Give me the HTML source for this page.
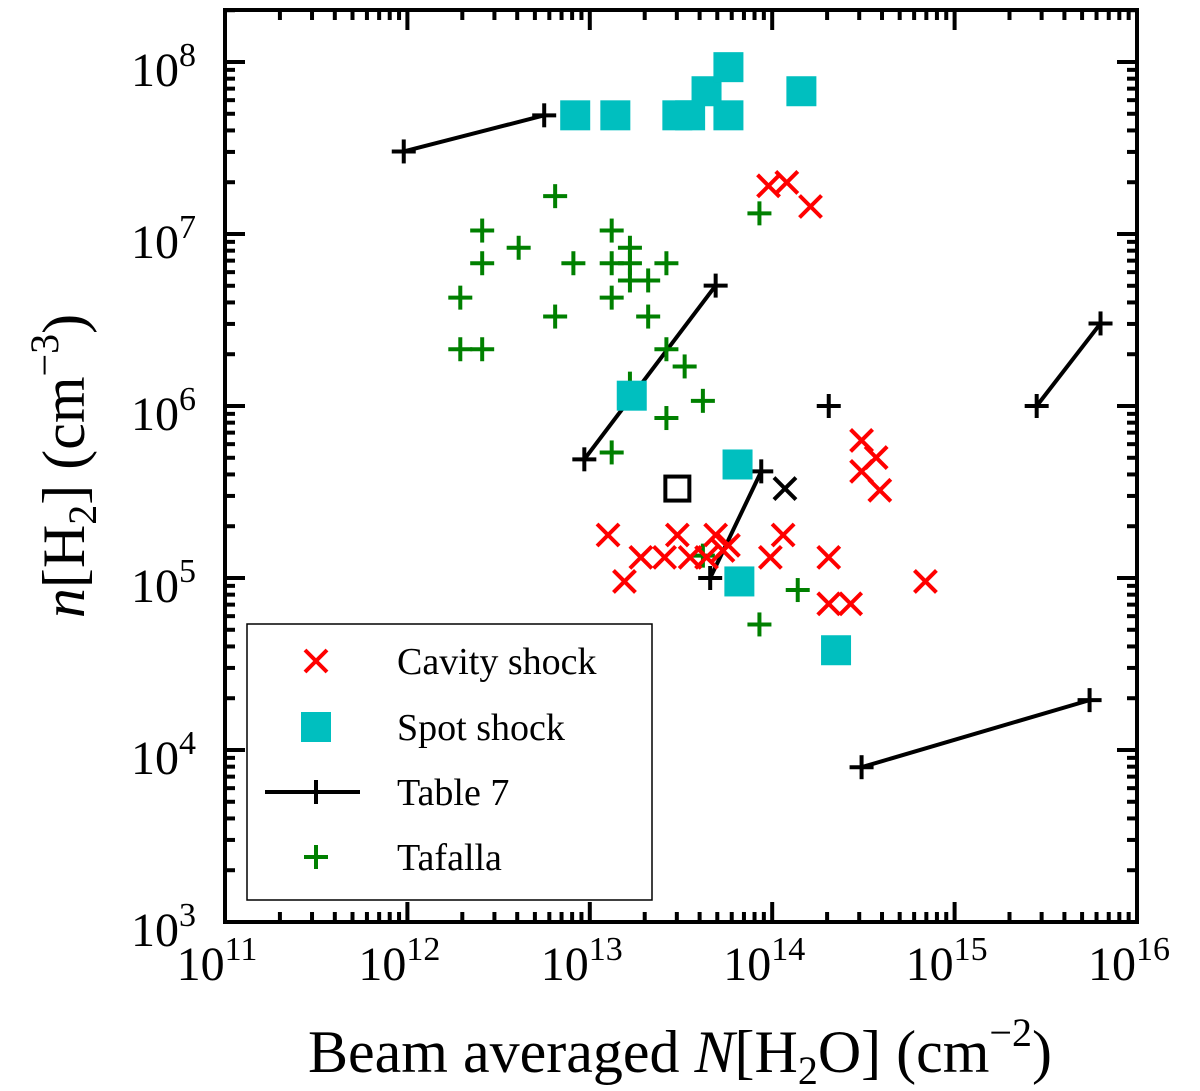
<!DOCTYPE html>
<html><head><meta charset="utf-8"><style>
body{margin:0;background:#fff}
svg{display:block;font-family:"Liberation Serif",serif}
</style></head><body>
<svg id="chart" width="1200" height="1091" viewBox="0 0 1200 1091" xmlns="http://www.w3.org/2000/svg"></svg>
<script>
// log10 values
const spotX=[12.92,13.14,13.48,13.55,13.64,13.76,13.76,14.16,13.23,13.81,13.82,14.35];
const spotY=[7.69,7.69,7.69,7.69,7.83,7.97,7.69,7.83,6.06,5.66,4.98,4.58];
const cavX=[13.98,14.08,14.21,14.49,14.57,14.49,14.59,13.10,13.19,13.28,13.48,13.41,13.55,13.69,13.76,13.64,13.73,14.06,13.99,14.31,14.31,14.43,14.84];
const cavY=[7.28,7.30,7.16,5.80,5.70,5.62,5.51,5.25,4.98,5.12,5.25,5.12,5.12,5.25,5.19,5.12,5.16,5.25,5.12,5.12,4.85,4.85,4.98];
const tafX=[12.81,12.41,13.93,13.12,12.61,12.41,12.91,13.12,13.22,13.22,13.42,12.29,13.12,13.22,13.32,12.81,13.32,12.29,12.41,13.42,13.52,13.22,13.62,13.42,13.12,13.62,14.14,13.93];
const tafY=[7.22,7.02,7.12,7.02,6.92,6.83,6.83,6.83,6.92,6.83,6.83,6.63,6.63,6.73,6.73,6.52,6.52,6.33,6.33,6.33,6.23,6.13,6.03,5.93,5.73,5.13,4.93,4.73];
const t7X1=[11.98,12.97,13.66,15.45,14.49];
const t7Y1=[7.48,5.69,5.00,6.00,3.90];
const t7X2=[12.75,13.69,13.94,15.80,15.74];
const t7Y2=[7.69,6.70,5.62,6.48,4.29];
const t7SingleX=[14.31], t7SingleY=[6.00];
const blackCrossX=[14.07], blackCrossY=[5.52];
const openSqX=[13.48], openSqY=[5.52];
const xTicks=[11,12,13,14,15,16];
const yTicks=[3,4,5,6,7,8];

const L=225,R=1137,T=10,B=922;
const X=v=>L+(v-11)/5*(R-L);
const Y=v=>922-(v-3)*172;
const svg=document.getElementById('chart');
const NS='http://www.w3.org/2000/svg';
function mk(tag,attrs,parent){const e=document.createElementNS(NS,tag);for(const k in attrs)e.setAttribute(k,attrs[k]);(parent||svg).appendChild(e);return e;}

const tg=mk('g',{stroke:'#000','stroke-width':4});


for(let d=11;d<16;d++)for(let m=1;m<10;m++){const v=d+Math.log10(m);const x=X(v);const len=m==1?20:10;
 mk('line',{x1:x,x2:x,y1:B,y2:B-len},tg);mk('line',{x1:x,x2:x,y1:T,y2:T+len},tg);}
for(let d=3;d<8.3;d++)for(let m=1;m<10;m++){const v=d+Math.log10(m);if(v>8.31)break;const y=Y(v);const len=m==1?20:10;
 mk('line',{x1:L,x2:L+len,y1:y,y2:y},tg);mk('line',{x1:R,x2:R-len,y1:y,y2:y},tg);}
const frame=mk('rect',{x:L,y:T,width:R-L,height:B-T,fill:'none',stroke:'#000','stroke-width':4});



xTicks.forEach(v=>{const t=mk('text',{x:X(v)-8,y:980,'font-size':48,'text-anchor':'middle'});
 
 t.innerHTML='10<tspan dy="-20" font-size="34">'+v+'</tspan>';});
yTicks.forEach(v=>{const t=mk('text',{x:196,y:Y(v)+24,'font-size':48,'text-anchor':'end'});
 
 t.innerHTML='10<tspan dy="-20" font-size="34">'+v+'</tspan>';});

const xt=mk('text',{x:680,y:1072,'font-size':60,'text-anchor':'middle'});

xt.innerHTML='Beam averaged <tspan font-style="italic">N</tspan>[H<tspan dy="12" font-size="40">2</tspan><tspan dy="-12">O] (cm</tspan><tspan dy="-26" font-size="40">−2</tspan><tspan dy="26">)</tspan>';
const yt=mk('text',{x:0,y:0,'font-size':60,'text-anchor':'middle',transform:'translate(84,466) rotate(-90)'});

yt.innerHTML='<tspan font-style="italic">n</tspan>[H<tspan dy="12" font-size="40">2</tspan><tspan dy="-12">] (cm</tspan><tspan dy="-26" font-size="40">−3</tspan><tspan dy="26">)</tspan>';

function cross(x,y,c,s,g){mk('line',{x1:x-s,y1:y-s,x2:x+s,y2:y+s,stroke:c,'stroke-width':4},g);mk('line',{x1:x-s,y1:y+s,x2:x+s,y2:y-s,stroke:c,'stroke-width':4},g);}
function plus(x,y,c,s,g){mk('line',{x1:x-s,y1:y,x2:x+s,y2:y,stroke:c,'stroke-width':4},g);mk('line',{x1:x,y1:y-s,x2:x,y2:y+s,stroke:c,'stroke-width':4},g);}

t7X1.forEach((_,i)=>{const g=mk('g',{});
 
 mk('line',{x1:X(t7X1[i]),y1:Y(t7Y1[i]),x2:X(t7X2[i]),y2:Y(t7Y2[i]),stroke:'#000','stroke-width':4},g);
 plus(X(t7X1[i]),Y(t7Y1[i]),'#000',12,g);plus(X(t7X2[i]),Y(t7Y2[i]),'#000',12,g);});
t7SingleX.forEach((v,i)=>{const g=mk('g',{});plus(X(v),Y(t7SingleY[i]),'#000',12,g);});

tafX.forEach((v,i)=>{const g=mk('g',{});plus(X(v),Y(tafY[i]),'#008000',12,g);});
cavX.forEach((v,i)=>{const g=mk('g',{});cross(X(v),Y(cavY[i]),'#ff0000',11,g);});
blackCrossX.forEach((v,i)=>{const g=mk('g',{});cross(X(v),Y(blackCrossY[i]),'#000',11,g);});
spotX.forEach((v,i)=>{const r=mk('rect',{x:X(v)-15,y:Y(spotY[i])-15,width:30,height:30,fill:'#00bfbf'});});
openSqX.forEach((v,i)=>{const r=mk('rect',{x:X(v)-12,y:Y(openSqY[i])-12,width:24,height:24,fill:'none',stroke:'#000','stroke-width':4});});

const lg=mk('g',{});
mk('rect',{x:247,y:624,width:405,height:276,fill:'#fff',stroke:'#000','stroke-width':1.5},lg);
const e1=mk('g',{},lg);
cross(316,661,'#ff0000',11,e1);
const e2=mk('g',{},lg);
mk('rect',{x:301,y:712,width:30,height:30,fill:'#00bfbf'},e2);
const e3=mk('g',{},lg);
mk('line',{x1:265,x2:360,y1:792,y2:792,stroke:'#000','stroke-width':4},e3);plus(316,792,'#000',12,e3);
const e4=mk('g',{},lg);
plus(316,857,'#008000',12,e4);
[['Cavity shock',661],['Spot shock',727],['Table 7',792],['Tafalla',857]].forEach(([s,y])=>{const t=mk('text',{x:397,y:y+13,'font-size':38},lg);t.textContent=s;});
</script>
</body></html>
